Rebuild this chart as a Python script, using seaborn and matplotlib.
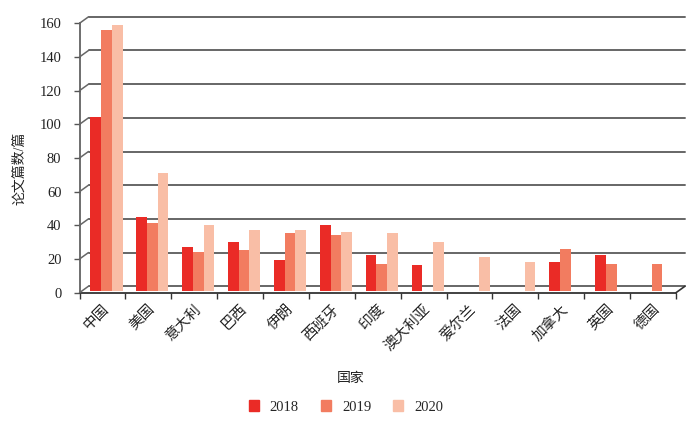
import numpy as np
import pandas as pd
import seaborn as sns
import matplotlib
matplotlib.use("Agg")
import matplotlib.pyplot as plt
from matplotlib.transforms import ScaledTranslation, IdentityTransform
from matplotlib.lines import Line2D

countries = ["中国", "美国", "意大利", "巴西", "伊朗", "西班牙", "印度",
             "澳大利亚", "爱尔兰", "法国", "加拿大", "英国", "德国"]
years = ["2018", "2019", "2020"]
v2018 = [103, 44, 26, 29, 18, 39, 21, 15, np.nan, np.nan, 17, 21, np.nan]
v2019 = [155, 40, 23, 24, 34, 33, 16, np.nan, np.nan, np.nan, 25, 16, 16]
v2020 = [158, 70, 39, 36, 36, 35, 34, 29, 20, 17, np.nan, np.nan, np.nan]
yticks = [0, 20, 40, 60, 80, 100, 120, 140, 160]
colors = ["#EA2B26", "#F27C60", "#F9BEA6"]

rows = []
for yr, vals in zip(years, [v2018, v2019, v2020]):
    for c, v in zip(countries, vals):
        rows.append({"国家": c, "年份": yr, "篇数": v})
df = pd.DataFrame(rows)

sns.set_theme(style="white")
plt.rcParams["font.family"] = ["Liberation Serif", "Noto Sans CJK SC"]

W, H = 700, 424
fig = plt.figure(figsize=(7, 4.24), dpi=100)
x0, x1 = 79.5, 676
ytop, ybot = 23.3, 292.7
ax = fig.add_axes([x0 / W, 1 - ybot / H, (x1 - x0) / W, (ybot - ytop) / H])
ax.set_facecolor("none")

sns.barplot(data=df, x="国家", y="篇数", hue="年份", order=countries,
            hue_order=years, palette=colors, width=0.7, errorbar=None,
            saturation=1, ax=ax, legend=True, linewidth=0)

ax.set_ylim(0, 160)
ax.set_xlim(-0.5, len(countries) - 0.5)

# shift bars slightly (3D depth effect)
bar_off = ScaledTranslation(4 / 100, 2 / 100, fig.dpi_scale_trans)
for p in ax.patches:
    p.set_transform(ax.transData + bar_off)

gc = "#666666"
dx, dy = 9, 6.5
back_off = ScaledTranslation(dx / 100, dy / 100, fig.dpi_scale_trans)
fig.canvas.draw()
for v in yticks:
    ax.plot([0, 1], [v, v], transform=ax.get_yaxis_transform() + back_off,
            color=gc, lw=1.4, zorder=0, clip_on=False)
    px, py = ax.transData.transform((-0.5, v))
    fig.add_artist(Line2D([px, px + dx], [py, py + dy], transform=IdentityTransform(),
                          color=gc, lw=1.1))
# right floor edge
px, py = ax.transData.transform((len(countries) - 0.5, 0))
fig.add_artist(Line2D([px, px + dx], [py, py + dy], transform=IdentityTransform(),
                      color="#333333", lw=1.2))

for s in ["top", "right"]:
    ax.spines[s].set_visible(False)
ax.spines["left"].set_color("#555555")
ax.spines["left"].set_linewidth(1.2)
ax.spines["bottom"].set_color("#333333")
ax.spines["bottom"].set_linewidth(1.3)

ax.set_yticks(yticks)
ax.set_yticklabels([str(t) for t in yticks], fontsize=10.5, color="#222222")
ax.tick_params(axis="y", direction="out", length=4, width=1, color="#555555", pad=9, left=True)

ax.set_xticks(np.arange(len(countries) + 1) - 0.5)
ax.set_xticklabels([])
ax.set_xticks(np.arange(len(countries)), minor=True)
ax.set_xticklabels(countries, minor=True, rotation=45, ha="right", va="top",
                   rotation_mode="anchor", fontsize=10.5, color="#222222")
ax.tick_params(axis="x", which="major", direction="out", length=4, width=1,
               color="#333333", bottom=True)
ax.tick_params(axis="x", which="minor", length=0, pad=7)
ax.grid(False)

ax.set_xlabel("")
ax.set_ylabel("")
fig.text(20 / W, 1 - 168 / H, "论文篇数/篇", rotation=90, ha="center", va="center",
         fontsize=10, color="#222222")
fig.text(351 / W, 1 - 378 / H, "国家", ha="center", va="center", fontsize=10, color="#222222")

ax.legend_.remove()
handles = [plt.Rectangle((0, 0), 1, 1, color=c) for c in colors]
fig.legend(handles, years, loc="center", bbox_to_anchor=(346 / W, 1 - 407 / H), ncol=3,
           frameon=False, fontsize=10.5, handlelength=0.7, handleheight=0.7,
           handletextpad=0.75, columnspacing=1.5)

fig.savefig("out.png", dpi=100)
